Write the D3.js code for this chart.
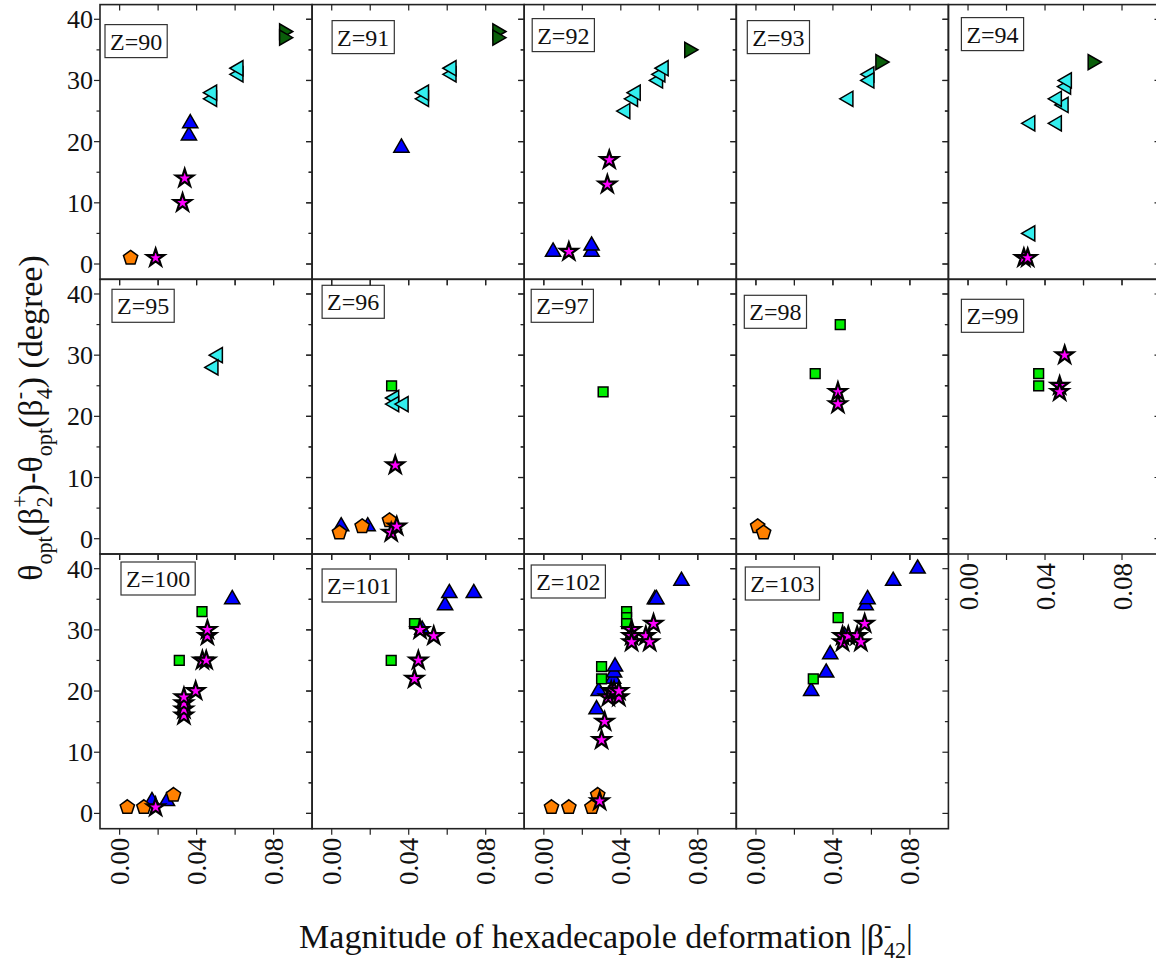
<!DOCTYPE html>
<html><head><meta charset="utf-8">
<script src="https://cdn.jsdelivr.net/npm/d3@7/dist/d3.min.js"></script>
<style>body{margin:0;background:#fff}svg{display:block}</style>
</head><body>
<svg id="c" width="1156" height="966"></svg>
<script>
// ---------- data ----------
const zLabels = [90,91,92,93,94,95,96,97,98,99,100,101,102,103];
const xTicks = [0.00, 0.04, 0.08];
const xMinorTicks = [0.02, 0.06];
const yTicks = [0, 10, 20, 30, 40];
const yMinorTicks = [5, 15, 25, 35];

// [Z, |beta42-|, angle]
const pentagonPts = [
 [90,0.0057,1],
 [96,0.004,1],[96,0.0158,2],[96,0.030,3],
 [98,0.0009,2],[98,0.004,1],
 [100,0.004,1],[100,0.0126,1],[100,0.028,3],
 [102,0.004,1],[102,0.013,1],[102,0.025,1],[102,0.028,3]
];
const starPts = [
 [90,0.0187,1],[90,0.0327,10],[90,0.0338,14],
 [92,0.013,2],[92,0.033,13],[92,0.034,17],
 [94,0.029,1],[94,0.031,1],
 [96,0.0309,1],[96,0.0338,2],[96,0.033,12],
 [98,0.0426,24],[98,0.0426,22],
 [99,0.0502,30],[99,0.0476,25],[99,0.0476,24],
 [100,0.0187,1],[100,0.0334,16],[100,0.0334,17],[100,0.0334,18],[100,0.0334,19],[100,0.0395,20],
 [100,0.043,25],[100,0.045,25],[100,0.0456,29],[100,0.0456,30],
 [101,0.043,22],[101,0.045,25],[101,0.0459,30],[101,0.053,29],
 [102,0.029,2],[102,0.030,12],[102,0.0316,15],[102,0.0335,19],[102,0.035,20],[102,0.0365,20],
 [102,0.039,19],[102,0.039,20],[102,0.0456,30],[102,0.0456,29],[102,0.0456,28],
 [102,0.053,29],[102,0.055,28],[102,0.057,31],
 [103,0.045,29],[103,0.045,28],[103,0.048,29],[103,0.0526,29],[103,0.0545,28],[103,0.0565,31]
];
const upTriPts = [
 [90,0.036,21],[90,0.0367,23],
 [91,0.0362,19],
 [92,0.0048,2],[92,0.0248,2],[92,0.0248,3],
 [96,0.0049,2],[96,0.0187,2],
 [100,0.0168,2],[100,0.0246,2],[100,0.0585,35],
 [101,0.047,30],[101,0.0589,34],[101,0.0611,36],[101,0.0738,36],
 [102,0.0274,17],[102,0.0285,20],[102,0.036,22],[102,0.0365,23],[102,0.037,24],
 [102,0.0577,35],[102,0.0585,35],[102,0.0715,38],
 [103,0.0287,20],[103,0.0365,23],[103,0.0386,26],[103,0.046,29],[103,0.057,34],
 [103,0.058,35],[103,0.0713,38],[103,0.084,40]
];
const leftTriPts = [
 [90,0.0481,27],[90,0.0481,28],[90,0.0618,31],[90,0.0618,32],
 [91,0.048,27],[91,0.048,28],[91,0.0623,31],[91,0.0623,32],
 [92,0.0424,25],[92,0.0464,27],[92,0.0478,28],[92,0.0594,30],[92,0.0606,31],[92,0.0623,32],
 [93,0.0481,27],[93,0.059,31],[93,0.059,30],
 [94,0.0324,5],[94,0.0324,23],[94,0.0462,23],[94,0.0497,26],[94,0.0462,27],[94,0.051,29],[94,0.0514,30],
 [95,0.0511,30],[95,0.0488,28],
 [96,0.0325,23],[96,0.0325,22],[96,0.0374,22]
];
const rightTriPts = [
 [90,0.0854,38],[90,0.0854,37],
 [91,0.086,38],[91,0.086,37],
 [92,0.0755,35],
 [93,0.0646,33],
 [94,0.0647,33]
];
const squarePts = [
 [96,0.0311,25],
 [97,0.0308,24],
 [98,0.0308,27],[98,0.0438,35],
 [99,0.0367,27],[99,0.0367,25],
 [100,0.031,25],[100,0.0428,33],
 [101,0.0309,25],[101,0.043,31],
 [102,0.030,24],[102,0.030,22],[102,0.043,33],[102,0.043,32],[102,0.043,31],
 [103,0.0298,22],[103,0.0427,32]
];

// ---------- layout ----------
const nCols = 5, colW = 212.1, left0 = 100;
const top0 = 4.6, rowH = 274.7;
const xDomain = [-0.0102, 0.1];
const yDomain = [-2.5, 42.4];
const labelOffsets = { // box offset within panel (dx, dy)
 90:[5,20],91:[20,16],92:[8,14],93:[11,16],94:[13,13],
 95:[12,10],96:[10,6],97:[7,10],98:[8,16],99:[13,20],
 100:[21,8],101:[10,15],102:[7,11],103:[9,13]
};
const FONT = "'Liberation Serif','Times New Roman',serif";

const svg = d3.select("#c");

function panelPos(i){ return {col: i % nCols, row: Math.floor(i / nCols)}; }

const panelScales = {};
zLabels.forEach((z,i)=>{
  const {col,row} = panelPos(i);
  const x0 = left0 + col*colW, y0 = top0 + row*rowH;
  panelScales[z] = {
    x: d3.scaleLinear().domain(xDomain).range([x0, x0+colW]),
    y: d3.scaleLinear().domain(yDomain).range([y0+rowH, y0]),
    col, row, x0, y0
  };
});

// ticks & frames
zLabels.forEach((z,i)=>{
  const s = panelScales[z];
  const g = svg.append("g");
  const yMaj = 6, yMin = 3.5;
  yTicks.forEach(v=>{
    const y = s.y(v);
    g.append("line").attr("x1",s.x0-yMaj).attr("x2",s.x0).attr("y1",y).attr("y2",y);
    g.append("line").attr("x1",s.x0+colW-yMaj).attr("x2",s.x0+colW).attr("y1",y).attr("y2",y);
  });
  yMinorTicks.forEach(v=>{
    const y = s.y(v);
    g.append("line").attr("x1",s.x0-yMin).attr("x2",s.x0).attr("y1",y).attr("y2",y);
    g.append("line").attr("x1",s.x0+colW-yMin).attr("x2",s.x0+colW).attr("y1",y).attr("y2",y);
  });
  xTicks.concat(xMinorTicks).forEach(v=>{
    const x = s.x(v);
    g.append("line").attr("x1",x).attr("x2",x).attr("y1",s.y0).attr("y2",s.y0+6);
    g.append("line").attr("x1",x).attr("x2",x).attr("y1",s.y0+rowH).attr("y2",s.y0+rowH+6);
  });
  g.selectAll("line").attr("stroke","#222").attr("stroke-width",1.2);
  g.append("rect").attr("x",s.x0).attr("y",s.y0).attr("width",colW).attr("height",rowH)
    .attr("fill","none").attr("stroke","#222").attr("stroke-width",1.6);

  if (s.col === 0) {
    yTicks.forEach(v=>{
      svg.append("text").attr("x",s.x0-7).attr("y",s.y(v)+9)
        .attr("text-anchor","end").attr("font-family",FONT).attr("font-size",26)
        .attr("fill","#111").text(v);
    });
  }
  const isBottom = (s.row === 2) || (s.row === 1 && s.col === 4);
  if (isBottom) {
    xTicks.forEach(v=>{
      const x = s.x(v), y = s.y0 + rowH + 9;
      svg.append("text").attr("transform",`translate(${x+9.5},${y}) rotate(-90)`)
        .attr("text-anchor","end").attr("font-family",FONT).attr("font-size",27)
        .attr("fill","#111").text(d3.format(".2f")(v));
    });
  }
  const off = labelOffsets[z];
  const lt = svg.append("text").attr("x",s.x0+off[0]+5).attr("y",s.y0+off[1]+25)
     .attr("font-family",FONT).attr("font-size",24).attr("fill","#111").text("Z="+z);
  const w = lt.node().getComputedTextLength();
  svg.insert("rect","text").attr("x",s.x0+off[0]).attr("y",s.y0+off[1])
     .attr("width",w+10).attr("height",33).attr("fill","#fff")
     .attr("stroke","#333").attr("stroke-width",1.2);
});

// ---------- markers ----------
const pentPath = (r)=>{
  const p = d3.path();
  for (let k=0;k<5;k++){
    const a = -Math.PI/2 + k*2*Math.PI/5;
    const px = r*Math.cos(a), py = r*Math.sin(a);
    if(k===0) p.moveTo(px,py); else p.lineTo(px,py);
  }
  p.closePath(); return p.toString();
};
const sym = {
  tri: d3.symbol().type(d3.symbolTriangle).size(100)(),
  star: d3.symbol().type(d3.symbolStar).size(95)(),
  sq: d3.symbol().type(d3.symbolSquare).size(95)(),
  pent: pentPath(7.5)
};
const mg = svg.append("g");
function drawSeries(pts, path, fill, rot, sw){
  mg.append("g").selectAll("path").data(pts).join("path")
    .attr("d", path)
    .attr("transform", d=>{
      const s = panelScales[d[0]];
      return `translate(${s.x(d[1])},${s.y(d[2])})` + (rot ? ` rotate(${rot})` : "");
    })
    .attr("fill", fill).attr("stroke","#000").attr("stroke-width",sw || 1.5)
    .attr("stroke-linejoin","miter");
}
drawSeries(upTriPts, sym.tri, "#0000ff", 0);
drawSeries(pentagonPts, sym.pent, "#ff8000", 0);
drawSeries(squarePts, sym.sq, "#00ee00", 0);
drawSeries(leftTriPts, sym.tri, "#33eeee", -90);
drawSeries(rightTriPts, sym.tri, "#0a5e0a", 90);
drawSeries(starPts, sym.star, "#ff00ff", 0, 2.2);

// ---------- rich text helpers ----------
function rich(g, pieces, size){
  let x = 0;
  pieces.forEach(p=>{
    if (p.n !== undefined){
      const t = g.append("text").attr("x",x).attr("y",0).attr("font-size",size)
        .attr("font-family",FONT).text(p.n);
      x += t.node().getComputedTextLength();
    } else {
      let w = 0;
      if (p.sub !== undefined){
        const t = g.append("text").attr("x",x).attr("y",size*0.3).attr("font-size",size*0.65)
          .attr("font-family",FONT).text(p.sub);
        w = Math.max(w, t.node().getComputedTextLength());
      }
      if (p.sup !== undefined){
        const t = g.append("text").attr("x",x).attr("y",-size*0.45).attr("font-size",size*0.65)
          .attr("font-family",FONT).text(p.sup);
        w = Math.max(w, t.node().getComputedTextLength());
      }
      x += w;
    }
  });
  g.selectAll("text").attr("fill","#111");
  return x;
}
// x axis title
const xt = svg.append("g");
const xw = rich(xt, [{n:"Magnitude of hexadecapole deformation |β"},{sub:"42",sup:"-"},{n:"|"}], 34);
xt.attr("transform",`translate(${606 - xw/2},${948})`);
// y axis title
const yt = svg.append("g");
const yw = rich(yt, [{n:"θ"},{sub:"opt"},{n:"(β"},{sub:"2",sup:"+"},{n:")-θ"},{sub:"opt"},{n:"(β"},{sub:"4",sup:"-"},{n:") (degree)"}], 34);
yt.attr("transform",`translate(42,${418 + yw/2}) rotate(-90)`);
</script>
</body></html>
